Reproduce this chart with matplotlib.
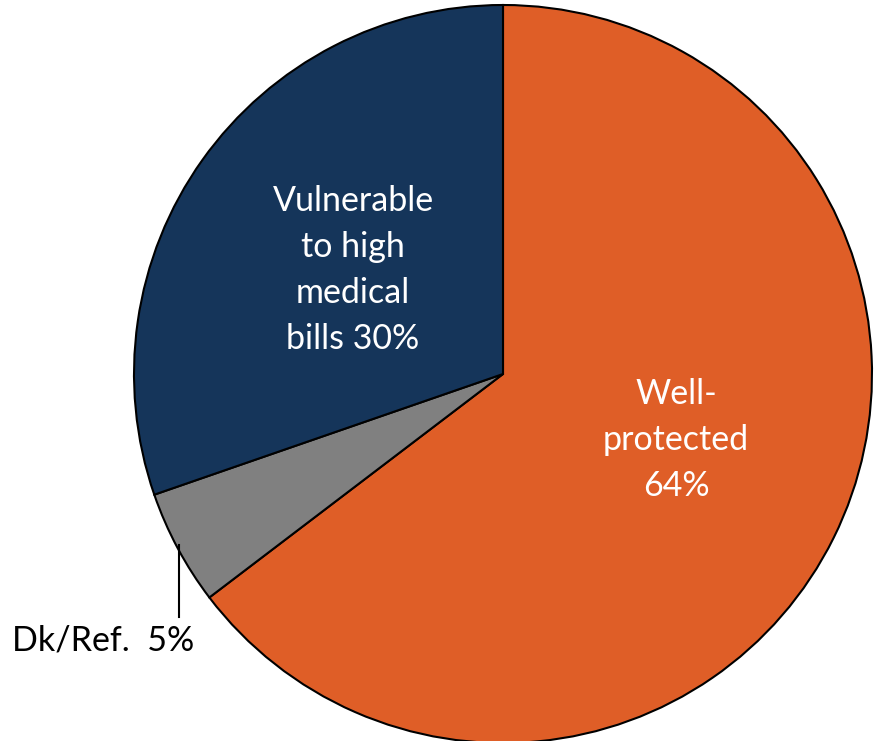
import matplotlib
matplotlib.use("Agg")
import matplotlib.pyplot as plt

# Shares of respondents (percent)
labels = ["Well-\nprotected\n64%", "Dk/Ref.  5%", "Vulnerable\nto high\nmedical\nbills 30%"]
values = [64, 5, 30]
colors = ["#DF5E27", "#808080", "#15355A"]

W, H = 876, 741
fig = plt.figure(figsize=(W / 100, H / 100), dpi=100)
ax = fig.add_axes([0, 0, 1, 1])

cx, cy, r = 503, H - 374, 369
wedges, _ = ax.pie(values, colors=colors, startangle=90, counterclock=False,
                   center=(cx, cy), radius=r,
                   wedgeprops=dict(edgecolor="black", linewidth=1.5))
ax.set_xlim(0, W)
ax.set_ylim(0, H)
ax.set_aspect("equal")
ax.axis("off")

font = ["Lato", "DejaVu Sans"]
ax.text(676, H - 440, labels[0], color="white", ha="center", va="center",
        fontsize=24.5, family=font, linespacing=1.55)
ax.text(353, H - 270, labels[2], color="white", ha="center", va="center",
        fontsize=24.5, family=font, linespacing=1.55)
ax.text(103, H - 640, labels[1], color="black", ha="center", va="center",
        fontsize=24.5, family=font)
ax.plot([179, 179], [H - 545, H - 617], color="black", linewidth=1.5)

fig.savefig("out.png", dpi=100)
